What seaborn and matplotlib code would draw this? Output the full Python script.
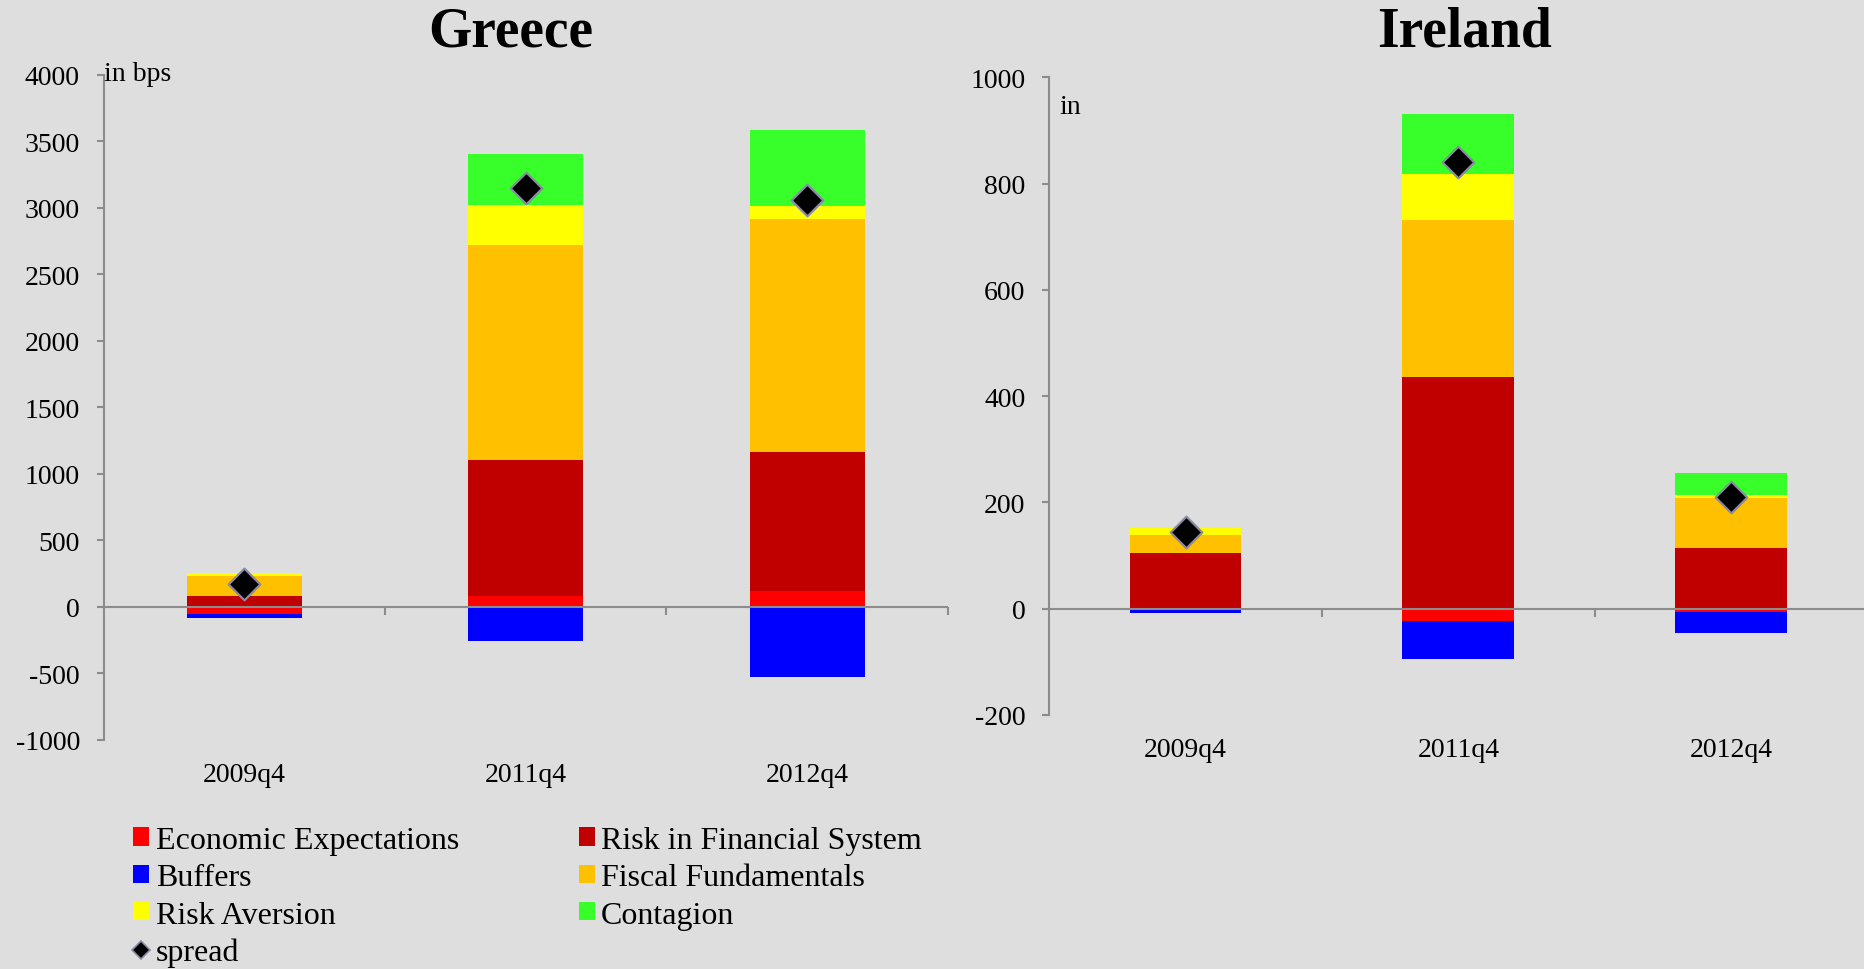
import numpy as np
import seaborn as sns
import matplotlib.pyplot as plt
from matplotlib.patches import Patch
from matplotlib.lines import Line2D

quarters = ['2009q4', '2011q4', '2012q4']
components = ['Economic Expectations', 'Risk in Financial System', 'Buffers',
              'Fiscal Fundamentals', 'Risk Aversion', 'Contagion']
colors = ['#FF0000', '#C00000', '#0000FF', '#FFC000', '#FFFF00', '#38FF2A']

# Greece, in bps
greece_econ = [-55, 85, 120]
greece_riskfs = [82, 1020, 1045]
greece_buffers = [-30, -255, -530]
greece_fiscal = [151, 1613, 1755]
greece_riskav = [25, 302, 95]
greece_contagion = [0, 384, 572]
greece_spread = [175, 3150, 3058]

# Ireland
ireland_econ = [0, -24, -6]
ireland_riskfs = [105, 437, 115]
ireland_buffers = [-8, -70, -40]
ireland_fiscal = [34, 294, 93]
ireland_riskav = [13, 88, 6]
ireland_contagion = [0, 113, 42]
ireland_spread = [145, 840, 211]

grey = '#8C8C8C'
bg = '#DEDEDE'

sns.set_theme(style='white', rc={'axes.facecolor': bg, 'figure.facecolor': bg})
plt.rcParams['font.family'] = ['Liberation Serif', 'DejaVu Serif']
plt.rcParams['text.color'] = 'black'
plt.rcParams['xtick.color'] = 'black'
plt.rcParams['ytick.color'] = 'black'
plt.rcParams['axes.unicode_minus'] = False


def stacked_panel(ax, series, spread, ymin, ymax, step):
    x = np.arange(len(quarters))
    pos = np.zeros(len(quarters))
    neg = np.zeros(len(quarters))
    # excel style stacking: positives go up, negatives go down
    for vals, c in zip(series, colors):
        vals = np.array(vals, dtype=float)
        bottom = np.where(vals >= 0, pos, neg)
        ax.bar(x, vals, bottom=bottom, width=0.41, color=c, linewidth=0, zorder=2)
        pos += np.clip(vals, 0, None)
        neg += np.clip(vals, None, 0)
    sns.scatterplot(x=x, y=spread, marker='D', s=260, color='black',
                    edgecolor='#8A8AA6', linewidth=1.6, ax=ax, zorder=5, legend=False)

    ax.set_xlim(-0.5, len(quarters) - 0.5)
    ax.set_ylim(ymin, ymax)
    ax.set_yticks(np.arange(ymin, ymax + step, step))
    ax.set_xticks(x)
    ax.set_xticklabels(quarters)
    ax.set_xlabel('')
    ax.set_ylabel('')
    for s in ['top', 'right', 'bottom']:
        ax.spines[s].set_visible(False)
    ax.spines['left'].set_color(grey)
    ax.spines['left'].set_linewidth(1.5)
    ax.tick_params(axis='x', length=0, pad=16, labelsize=20, labelcolor='black')
    ax.tick_params(axis='y', length=5, width=1.5, color=grey, direction='out',
                   pad=12, labelsize=20, left=True, labelcolor='black')
    ax.axhline(0, color=grey, lw=1.5, zorder=3)

    # category boundary ticks on the zero line
    y0 = (0 - ymin) / (ymax - ymin)
    sec = ax.secondary_xaxis(y0)
    sec.spines['bottom'].set_visible(False)
    sec.spines['top'].set_visible(False)
    sec.xaxis.set_ticks_position('bottom')
    sec.set_xticks(x + 0.5)
    sec.tick_params(length=6, width=1.5, color=grey, direction='out', labelbottom=False)


fig = plt.figure(figsize=(18.65, 9.7), dpi=100)
ax1 = fig.add_axes([0.0555, 0.2361, 0.4528, 0.6856])
ax2 = fig.add_axes([0.5625, 0.2619, 0.4390, 0.6572])

stacked_panel(ax1, [greece_econ, greece_riskfs, greece_buffers, greece_fiscal,
                    greece_riskav, greece_contagion], greece_spread, -1000, 4000, 500)
stacked_panel(ax2, [ireland_econ, ireland_riskfs, ireland_buffers, ireland_fiscal,
                    ireland_riskav, ireland_contagion], ireland_spread, -200, 1000, 200)

fig.text(0.274, 0.966, 'Greece', ha='center', va='center', fontsize=40, fontweight='bold')
fig.text(0.785, 0.966, 'Ireland', ha='center', va='center', fontsize=40, fontweight='bold')
fig.text(0.0558, 0.9227, 'in bps', ha='left', va='center', fontsize=20)
fig.text(0.5678, 0.8887, 'in', ha='left', va='center', fontsize=20)

# legend, filled column-wise so it reads row-wise like the original
handles = [Patch(facecolor=c, edgecolor='none') for c in colors]
spread_handle = Line2D([], [], marker='D', linestyle='none', markersize=9,
                       markerfacecolor='black', markeredgecolor='#8A8AA6', markeredgewidth=1.2)
leg_handles = [handles[0], handles[2], handles[4], spread_handle,
               handles[1], handles[3], handles[5]]
leg_labels = [components[0], components[2], components[4], 'spread',
              components[1], components[3], components[5]]
fig.legend(leg_handles, leg_labels, loc='upper left', bbox_to_anchor=(0.063, 0.164),
           ncol=2, frameon=False, fontsize=23, handlelength=0.5, handleheight=0.5,
           handletextpad=0.2, labelspacing=0.26, columnspacing=3.75, borderpad=0)

fig.savefig('out.png', dpi=100, facecolor=bg)
